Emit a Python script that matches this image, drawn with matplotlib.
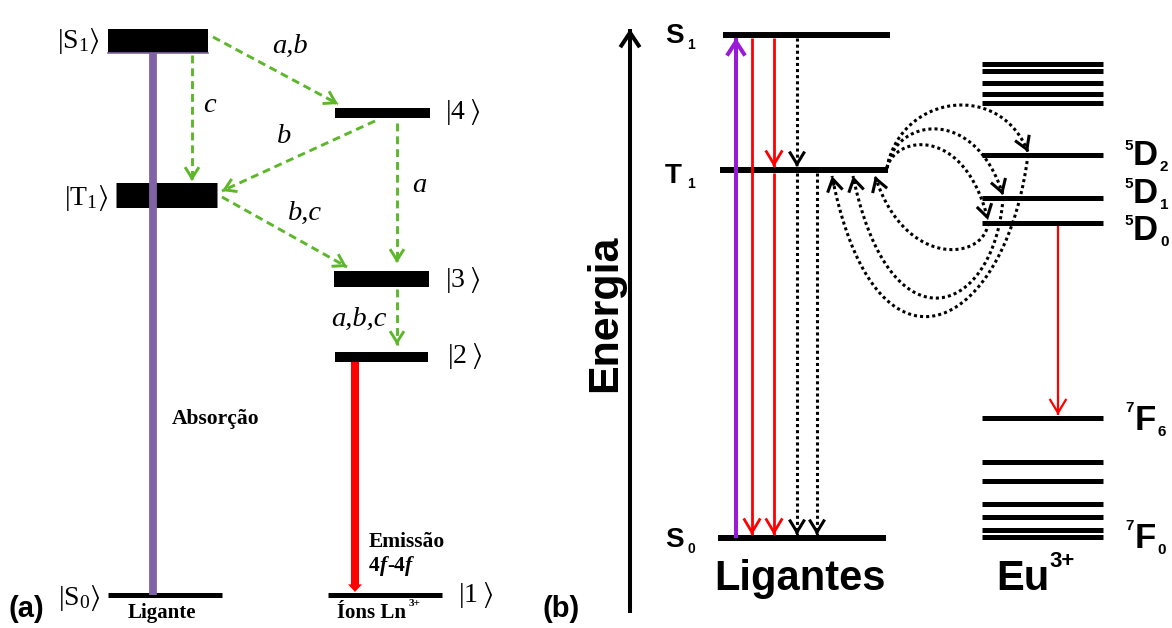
import numpy as np
import matplotlib.pyplot as plt
from matplotlib.patches import FancyArrowPatch

plt.rcParams['mathtext.fontset'] = 'custom'
plt.rcParams['mathtext.rm'] = 'Liberation Serif'
plt.rcParams['mathtext.it'] = 'Liberation Serif:italic'
plt.rcParams['mathtext.bf'] = 'Liberation Serif:bold'
plt.rcParams['mathtext.fallback'] = 'stix'

SERIF = 'Liberation Serif'
SANS = 'Liberation Sans'
GREEN = '#5cb82a'
PURPLE_A = '#8062a6'
PURPLE_B = '#9a1ad6'
RED = '#ff0000'

# ---------------- panel (a): levels (row in px), spans and thickness
a_kets = [r'$|\mathrm{S}_{1}\rangle$', r'$|\mathrm{T}_{1}\rangle$', r'$|4\;\rangle$',
          r'$|3\;\rangle$', r'$|2\;\rangle$', r'$|\mathrm{S}_{0}\rangle$', r'$|1\;\rangle$']
a_y = [41, 194.5, 113, 279, 357, 595, 595]
a_x0 = [108, 116, 335, 334, 335, 108, 328]
a_x1 = [208, 217, 430, 429, 428, 222, 442]
a_thick = [24, 25, 10, 16, 10, 5, 5]
a_ket_x = [78, 86, 463, 463, 465, 79, 476]
a_ket_y = [48, 205, 119, 287, 363, 605, 602]

# energy transfer (green dashed) : tail -> tip
a_tr_tail = [(213, 37), (192, 55), (375, 121), (222, 197), (397, 123), (397, 289)]
a_tr_tip = [(338, 104), (192, 181), (222, 191), (347, 267), (397, 263), (397, 345)]
a_tr_text = ['a,b', 'c', 'b', 'b,c', 'a', 'a,b,c']
a_tr_tx = [290, 209, 284, 305, 419, 359]
a_tr_ty = [53, 112, 143, 220, 192, 326]

# ---------------- panel (b): ligand and Eu3+ levels
lig_y = [35, 170, 538]          # S1, T1, S0
lig_x0 = [723, 720, 718]
lig_x1 = [890, 888, 886]
eu_upper_y = [64, 71, 83, 94, 103]
eu_5d_y = [155, 198, 223]       # 5D2, 5D1, 5D0
eu_7f_y = [418, 462, 481, 504, 517, 530, 537]
eu_x0, eu_x1 = 982, 1103

# vertical transitions in (b): x, from, to
red_x = [752, 774, 774]
red_from = [38, 38, 173]
red_to = [535, 167, 535]
dot_x = [797, 797, 817]
dot_from = [38, 173, 173]
dot_to = [167, 535, 535]

# curved transfers T1 <-> 5D (control points)
fwd_curves = [
    [(887, 168), (900, 95), (1000, 80), (1028, 152)],
    [(887, 168), (895, 118), (975, 105), (1003, 195)],
    [(887, 168), (895, 135), (965, 125), (988, 220)],
]
back_curves = [
    [(1028, 155), (1005, 335), (875, 395), (832, 176)],
    [(1003, 198), (995, 315), (890, 355), (853, 176)],
    [(988, 223), (985, 260), (905, 270), (875, 176)],
]


def head(ax, tail, tip, color, lw, hl, hw, z=5):
    ax.add_patch(FancyArrowPatch(tail, tip,
                                 arrowstyle=f'->,head_length={hl},head_width={hw}',
                                 mutation_scale=1, lw=lw, color=color,
                                 shrinkA=0, shrinkB=0, joinstyle='miter',
                                 capstyle='butt', zorder=z))


def arrow(ax, tail, tip, color, lw, ls='-', hl=9, hw=5, z=5):
    tail = np.asarray(tail, float)
    tip = np.asarray(tip, float)
    ax.plot([tail[0], tip[0]], [tail[1], tip[1]], color=color, lw=lw, ls=ls,
            solid_capstyle='butt', dash_capstyle='butt', zorder=z)
    d = (tip - tail) / np.hypot(*(tip - tail))
    head(ax, tip - d * 2, tip, color, lw, hl, hw, z)


def bezier(pts, n=200):
    p = np.asarray(pts, float)
    t = np.linspace(0, 1, n)[:, None]
    return ((1 - t) ** 3 * p[0] + 3 * (1 - t) ** 2 * t * p[1]
            + 3 * (1 - t) * t ** 2 * p[2] + t ** 3 * p[3])


fig = plt.figure(figsize=(11.72, 6.28), dpi=100)
ax = fig.add_axes([0, 0, 1, 1])
ax.set_xlim(0, 1172)
ax.set_ylim(628, 0)
ax.axis('off')

DOT = (0, (1, 1))
DASH = (0, (2.7, 1.7))

# ================= panel (a)
for y, x0, x1, t in zip(a_y, a_x0, a_x1, a_thick):
    ax.plot([x0, x1], [y, y], color='black', lw=t * 0.72, solid_capstyle='butt', zorder=2)
for k, x, y in zip(a_kets, a_ket_x, a_ket_y):
    ax.text(x, y, k, fontsize=20, ha='center', va='baseline')

# absorption
ax.plot([a_x0[0], a_x1[0]], [a_y[0] + a_thick[0] / 2] * 2, color=PURPLE_A, lw=1.2, zorder=3)
ax.plot([153, 153], [a_y[5], a_y[0] + a_thick[0] / 2], color=PURPLE_A, lw=5.6,
        solid_capstyle='butt', zorder=4)
# emission
ax.add_patch(FancyArrowPatch((355, a_y[4] + a_thick[4] / 2), (355, a_y[6] - 3),
                             arrowstyle='simple,head_length=5.5,head_width=10,tail_width=5.8',
                             mutation_scale=1, color=RED, lw=0, shrinkA=0, shrinkB=0, zorder=4))

for tl, tp in zip(a_tr_tail, a_tr_tip):
    arrow(ax, tl, tp, GREEN, 2.1, ls=DASH, hl=8, hw=5)
for s, x, y in zip(a_tr_text, a_tr_tx, a_tr_ty):
    ax.text(x, y, s, family=SERIF, style='italic', fontsize=20.5, ha='center', va='baseline')

ax.text(172, 424, 'Absorção', family=SERIF, weight='bold', fontsize=15.5, va='baseline')
ax.text(369, 547, 'Emissão', family=SERIF, weight='bold', fontsize=15.5, va='baseline')
# 4f-4f with bold italic f
for s, x, st in zip(['4', 'f', '-4', 'f'], [369, 380, 387, 405],
                    ['normal', 'italic', 'normal', 'italic']):
    ax.text(x, 571, s, family=SERIF, weight='bold', style=st, fontsize=15.5, va='baseline')
ax.text(162, 618, 'Ligante', family=SERIF, weight='bold', fontsize=15, ha='center', va='baseline')
ax.text(337, 618, 'Íons Ln', family=SERIF, weight='bold', fontsize=15, va='baseline')
ax.text(409, 606, '3+', family=SERIF, weight='bold', fontsize=8, va='baseline')
ax.text(8, 617, '(a)', family=SANS, weight='bold', fontsize=21, va='baseline')

# ================= panel (b)
arrow(ax, (630, 613), (630, 29), 'black', 2.9, hl=10.5, hw=7)
ax.text(616, 313, 'Energia', family=SANS, weight='bold', fontsize=31, rotation=90,
        rotation_mode='anchor', ha='center', va='baseline')

for y, x0, x1 in zip(lig_y, lig_x0, lig_x1):
    ax.plot([x0, x1], [y, y], color='black', lw=4.3, solid_capstyle='butt', zorder=2)
for y in eu_upper_y + eu_5d_y + eu_7f_y:
    ax.plot([eu_x0, eu_x1], [y, y], color='black', lw=3.6, solid_capstyle='butt', zorder=2)

arrow(ax, (736, lig_y[2]), (736, 38), PURPLE_B, 2.9, hl=10, hw=6.5)
for x, f, t in zip(red_x, red_from, red_to):
    arrow(ax, (x, f), (x, t), RED, 2.0, hl=10, hw=6)
for x, f, t in zip(dot_x, dot_from, dot_to):
    arrow(ax, (x, f), (x, t), 'black', 2.2, ls=DOT, hl=9, hw=5.5)
arrow(ax, (1058, eu_5d_y[2] + 3), (1058, eu_7f_y[0] - 3), RED, 1.6, hl=10, hw=6)

for c in fwd_curves + back_curves:
    pts = bezier(c)
    ax.plot(pts[:, 0], pts[:, 1], color='black', lw=2.2, ls=DOT,
            dash_capstyle='butt', zorder=5)
    head(ax, pts[-4], pts[-1], 'black', 2.2, 9, 5.5)

# level labels (b)
for m, s, yb, ys in zip(['S', 'T', 'S'], ['1', '1', '0'], [43, 183, 547], [49, 188, 553]):
    ax.text(665, yb, m, family=SANS, weight='bold', fontsize=20, va='baseline')
    ax.text(687, ys, s, family=SANS, weight='bold', fontsize=10, va='baseline')

for s, yb in zip(['2', '1', '0'], [165, 203, 240]):
    ax.text(1124, yb - 15, '5', family=SANS, weight='bold', fontsize=11, va='baseline')
    ax.text(1133, yb, 'D', family=SANS, weight='bold', fontsize=25, va='baseline')
    ax.text(1160, yb + 6, s, family=SANS, weight='bold', fontsize=11, va='baseline')
for s, yb in zip(['6', '0'], [430, 548]):
    ax.text(1125, yb - 18, '7', family=SANS, weight='bold', fontsize=11, va='baseline')
    ax.text(1135, yb, 'F', family=SANS, weight='bold', fontsize=25, va='baseline')
    ax.text(1157, yb + 6, s, family=SANS, weight='bold', fontsize=11, va='baseline')

ax.text(800, 590, 'Ligantes', family=SANS, weight='bold', fontsize=30, ha='center', va='baseline')
ax.text(996, 590, 'Eu', family=SANS, weight='bold', fontsize=30, va='baseline')
ax.text(1049, 567, '3+', family=SANS, weight='bold', fontsize=16, va='baseline')
ax.text(543, 617, '(b)', family=SANS, weight='bold', fontsize=21, va='baseline')

fig.savefig('out.png', dpi=100)
